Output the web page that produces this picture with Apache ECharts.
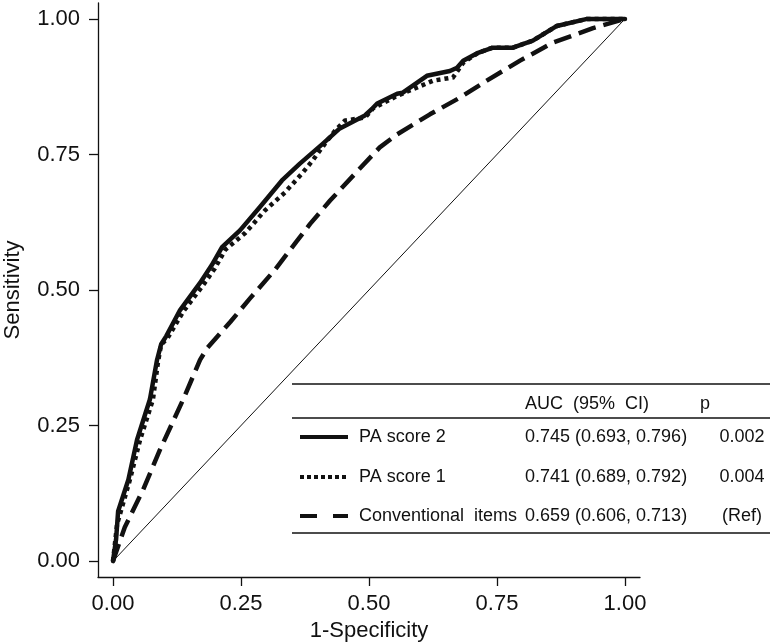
<!DOCTYPE html>
<html>
<head>
<meta charset="utf-8">
<script src="https://cdn.jsdelivr.net/npm/echarts@6/dist/echarts.min.js"></script>
<style>html,body{margin:0;padding:0;background:#fff}#c{width:771px;height:642px}</style>
</head>
<body>
<div id="c"></div>
<script>
// ---- data (x = 1-Specificity, y = Sensitivity) ----
const tickValues = [0, 0.25, 0.5, 0.75, 1];
const paScore2 = [
  [0,0],[0.006,0.04],[0.01,0.092],[0.03,0.15],[0.047,0.224],[0.0625,0.27],[0.072,0.298],
  [0.086,0.371],[0.094,0.40],[0.104,0.415],[0.131,0.463],[0.17,0.513],[0.193,0.546],
  [0.213,0.579],[0.248,0.61],[0.287,0.653],[0.33,0.702],[0.365,0.733],[0.41,0.77],
  [0.443,0.798],[0.492,0.822],[0.508,0.836],[0.516,0.844],[0.555,0.862],[0.566,0.864],
  [0.613,0.895],[0.658,0.904],[0.672,0.91],[0.684,0.923],[0.713,0.9375],[0.742,0.947],
  [0.781,0.947],[0.82,0.96],[0.867,0.987],[0.926,1.0],[1,1]
];
const paScore1 = [
  [0,0],[0.008,0.068],[0.033,0.15],[0.053,0.224],[0.078,0.298],[0.088,0.368],[0.094,0.399],
  [0.107,0.412],[0.137,0.46],[0.176,0.509],[0.199,0.54],[0.219,0.574],[0.258,0.605],
  [0.297,0.647],[0.336,0.68],[0.371,0.717],[0.39,0.739],[0.414,0.77],[0.434,0.794],
  [0.453,0.8125],[0.492,0.818],[0.508,0.835],[0.555,0.858],[0.625,0.886],[0.664,0.892],
  [0.684,0.919],[0.713,0.9375],[0.742,0.947],[0.781,0.947],[0.82,0.96],[0.867,0.987],
  [0.926,1.0],[1,1]
];
const conventional = [
  [0,0],[0.023,0.0625],[0.059,0.132],[0.092,0.206],[0.137,0.298],[0.17,0.371],[0.184,0.393],
  [0.229,0.441],[0.268,0.485],[0.316,0.537],[0.359,0.59],[0.385,0.622],[0.424,0.665],
  [0.482,0.724],[0.521,0.763],[0.555,0.787],[0.619,0.824],[0.678,0.855],[0.73,0.886],
  [0.795,0.923],[0.859,0.956],[0.9375,0.983],[1,1]
];
const reference = [[0,0],[1,1]];
const seriesNames = ['PA score 2', 'PA score 1', 'Conventional  items'];
const aucText = ['0.745 (0.693, 0.796)', '0.741 (0.689, 0.792)', '0.659 (0.606, 0.713)'];
const pText = ['0.002', '0.004', '(Ref)'];
const headerAuc = 'AUC  (95%  CI)';
const headerP = 'p';

// ---- styles ----
const INK = '#111';
const FONT = 'Liberation Sans, Arial, sans-serif';
const lineTypes = ['solid', [4, 4], [18, 8]];
const legendTypes = ['solid', [4, 3], [17, 16]];
const rowY = [437, 477, 516];

const chart = echarts.init(document.getElementById('c'), null, {renderer: 'canvas'});

const axisCommon = {
  type: 'value',
  min: -0.0293, max: 1.0293,
  splitLine: {show: false},
  axisLine: {show: true, onZero: false, lineStyle: {color: INK, width: 1.3}},
  axisTick: {show: true, customValues: tickValues, length: 9, lineStyle: {color: INK, width: 1.3}},
  axisLabel: {customValues: tickValues, formatter: v => v.toFixed(2), color: INK, fontSize: 22, fontFamily: FONT},
  nameLocation: 'middle',
  nameTextStyle: {color: INK, fontSize: 22, fontFamily: FONT}
};

const graphics = [];
[384, 418, 533].forEach(y => {
  graphics.push({type: 'line', shape: {x1: 292, y1: y, x2: 770, y2: y}, style: {stroke: INK, lineWidth: 1.6}});
});
graphics.push({type: 'text', x: 525, y: 404, style: {text: headerAuc, fill: INK, font: '18px ' + FONT, textVerticalAlign: 'middle'}});
graphics.push({type: 'text', x: 705, y: 404, style: {text: headerP, fill: INK, font: '18px ' + FONT, textAlign: 'center', textVerticalAlign: 'middle'}});
seriesNames.forEach((n, i) => {
  graphics.push({type: 'line', shape: {x1: 300, y1: rowY[i], x2: 348, y2: rowY[i]},
    style: {stroke: INK, lineWidth: 4, lineDash: legendTypes[i] === 'solid' ? null : legendTypes[i], lineCap: 'butt'}});
  graphics.push({type: 'text', x: 359, y: rowY[i], style: {text: n, fill: INK, font: '18px ' + FONT, textVerticalAlign: 'middle'}});
  graphics.push({type: 'text', x: 525, y: rowY[i], style: {text: aucText[i], fill: INK, font: '18px ' + FONT, textVerticalAlign: 'middle'}});
  graphics.push({type: 'text', x: 742, y: rowY[i], style: {text: pText[i], fill: INK, font: '18px ' + FONT, textAlign: 'center', textVerticalAlign: 'middle'}});
});

chart.setOption({
  animation: false,
  backgroundColor: '#fff',
  grid: {left: 98, right: 131, top: 3, bottom: 65, containLabel: false, outerBoundsMode: 'none'},
  xAxis: Object.assign({}, axisCommon, {name: '1-Specificity', nameGap: 42,
    axisLabel: Object.assign({}, axisCommon.axisLabel, {margin: 16})}),
  yAxis: Object.assign({}, axisCommon, {name: 'Sensitivity', nameGap: 74,
    axisLabel: Object.assign({}, axisCommon.axisLabel, {margin: 18})}),
  series: [
    {type: 'line', data: reference, showSymbol: false, silent: true, z: 1,
      lineStyle: {color: INK, width: 1}},
    {type: 'line', name: seriesNames[2], data: conventional, showSymbol: false, z: 2,
      lineStyle: {color: INK, width: 4.5, type: lineTypes[2], cap: 'butt', join: 'round'}},
    {type: 'line', name: seriesNames[1], data: paScore1, showSymbol: false, z: 3,
      lineStyle: {color: INK, width: 4.5, type: lineTypes[1], cap: 'butt', join: 'miter'}},
    {type: 'line', name: seriesNames[0], data: paScore2, showSymbol: false, z: 4,
      lineStyle: {color: INK, width: 4.5, type: 'solid', cap: 'round', join: 'round'}}
  ],
  graphic: graphics
});
</script>
</body>
</html>
